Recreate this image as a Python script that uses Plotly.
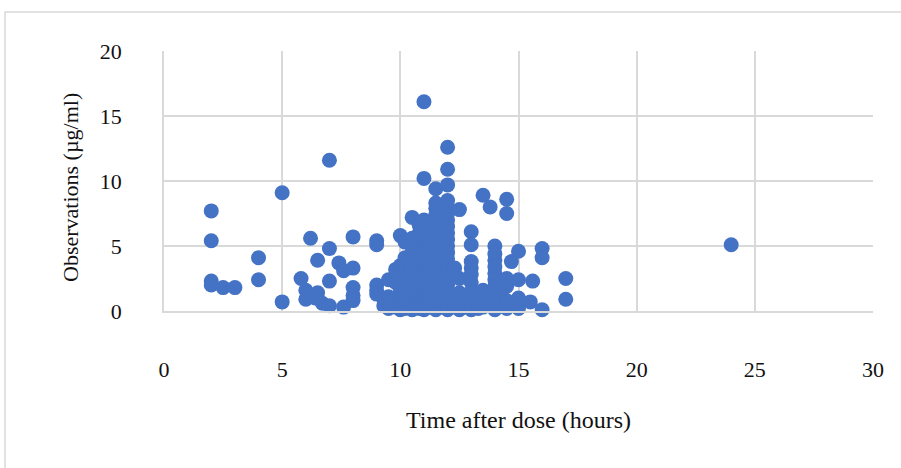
import plotly.graph_objects as go

# Time after dose (hours) and observed concentrations (µg/ml), grouped by time
time_groups = [2, 2.5, 3, 4, 5, 5.8, 6, 6.2, 6.4, 6.5, 6.7, 7, 7.4, 7.6, 8,
               9, 9.3, 9.5, 9.8, 10, 10.2, 10.5, 10.8, 11, 11.2, 11.5, 11.7, 12,
               12.3, 12.5, 12.8, 13, 13.3, 13.5, 13.8, 14, 14.3, 14.5, 14.7,
               15, 15.5, 15.6, 16, 17, 24]
obs_groups = [
    [7.7, 5.4, 2.3, 2.0],
    [1.8],
    [1.8],
    [4.1, 2.4],
    [9.1, 0.7],
    [2.5],
    [1.6, 0.9],
    [5.6],
    [1.0],
    [3.9, 1.4],
    [0.6],
    [11.6, 4.8, 2.3, 0.4],
    [3.7],
    [3.1, 0.3],
    [5.7, 3.3, 1.8, 1.2, 0.8],
    [5.4, 5.1, 2.0, 1.6, 1.3],
    [0.9, 0.4],
    [2.4, 1.1, 0.2],
    [3.2, 2.2, 1.0, 0.3],
    [5.8, 3.5, 3.0, 2.6, 2.1, 1.7, 1.2, 0.8, 0.4, 0.1],
    [5.3, 4.1, 2.8, 1.9, 1.4, 0.6, 0.2],
    [7.2, 5.6, 5.0, 4.5, 4.0, 3.4, 2.9, 2.3, 1.8, 1.3, 0.9, 0.5, 0.1],
    [6.6, 6.0, 4.8, 4.2, 3.6, 3.1, 2.5, 1.9, 1.5, 1.0, 0.6, 0.2],
    [16.1, 10.2, 7.0, 6.4, 5.9, 5.4, 4.9, 4.4, 3.9, 3.3, 2.8, 2.2, 1.7, 1.2, 0.8, 0.4, 0.1],
    [6.8, 6.1, 5.2, 4.6, 3.7, 3.0, 2.4, 1.6, 0.9, 0.3],
    [9.4, 8.3, 7.9, 7.4, 6.9, 6.3, 5.8, 5.3, 4.7, 4.1, 3.5, 3.0, 2.5, 2.0, 1.5, 1.0, 0.5, 0.1],
    [7.7, 6.7, 5.5, 4.3, 3.2, 2.1, 1.1, 0.3],
    [12.6, 10.9, 9.7, 8.5, 8.0, 7.5, 7.0, 6.5, 6.0, 5.5, 5.0, 4.5, 4.0, 3.5, 3.0, 2.5, 2.0, 1.5, 1.0, 0.5, 0.1],
    [3.3, 1.2, 0.4],
    [7.8, 2.5, 1.4, 0.6, 0.1],
    [1.0, 0.3],
    [6.1, 5.1, 3.8, 3.3, 2.8, 2.2, 1.5, 1.0, 0.5, 0.1],
    [1.3, 0.6, 0.2],
    [8.9, 1.6, 0.9, 0.3],
    [8.0, 1.4, 0.4],
    [5.0, 4.4, 3.9, 3.4, 2.9, 2.4, 1.9, 1.4, 0.9, 0.4, 0.1],
    [2.2, 1.1, 0.5],
    [8.6, 7.5, 2.5, 1.9, 0.8, 0.2],
    [3.8],
    [4.6, 2.4, 1.0, 0.2],
    [0.7],
    [2.3],
    [4.8, 4.1, 0.1],
    [2.5, 0.9],
    [5.1],
]

x_ticks = [0, 5, 10, 15, 20, 25, 30]
y_ticks = [0, 5, 10, 15, 20]

xs, ys = [], []
for t, vals in zip(time_groups, obs_groups):
    for v in vals:
        xs.append(t)
        ys.append(v)

FONT = "Liberation Serif"
GRID = "#d9d9d9"
TEXT = "#111111"

fig = go.Figure(go.Scatter(
    x=xs, y=ys, mode="markers", cliponaxis=False,
    marker=dict(size=15, color="#4472C4", line=dict(width=0)),
    hoverinfo="x+y",
))

fig.update_layout(
    width=901, height=468,
    margin=dict(l=164, r=28, t=51, b=157),
    paper_bgcolor="white", plot_bgcolor="white",
    showlegend=False,
    font=dict(family=FONT, size=22, color=TEXT),
    xaxis=dict(range=[0, 30], tickvals=x_ticks, showgrid=True, gridcolor=GRID,
               gridwidth=1.5, zeroline=False, showline=True, linecolor=GRID,
               linewidth=1.5, ticks="", ticklabelstandoff=38,
               tickfont=dict(family=FONT, size=22, color=TEXT)),
    yaxis=dict(range=[0, 20], tickvals=y_ticks, showgrid=True, gridcolor=GRID,
               gridwidth=1.5, zeroline=False, showline=True, linecolor=GRID,
               linewidth=1.5, ticks="", ticklabelstandoff=36,
               tickfont=dict(family=FONT, size=22, color=TEXT)),
    shapes=[dict(type="rect", xref="paper", yref="paper",
                 x0=(5 - 164) / 709, x1=1.2, y0=-0.8, y1=1 + (51 - 12) / 260,
                 line=dict(color=GRID, width=1.5), fillcolor="rgba(0,0,0,0)",
                 layer="below")],
    annotations=[
        dict(text="Time after dose (hours)", xref="paper", yref="paper",
             x=0.5, y=-(420 - 311) / 260, xanchor="center", yanchor="middle",
             showarrow=False, font=dict(family=FONT, size=24, color=TEXT)),
        dict(text="Observations (µg/ml)", xref="paper", yref="paper",
             x=(70 - 164) / 709, y=(311 - 188) / 260, xanchor="center",
             yanchor="middle", textangle=-90, showarrow=False,
             font=dict(family=FONT, size=22, color=TEXT)),
    ],
)

fig.write_html("out.html")
